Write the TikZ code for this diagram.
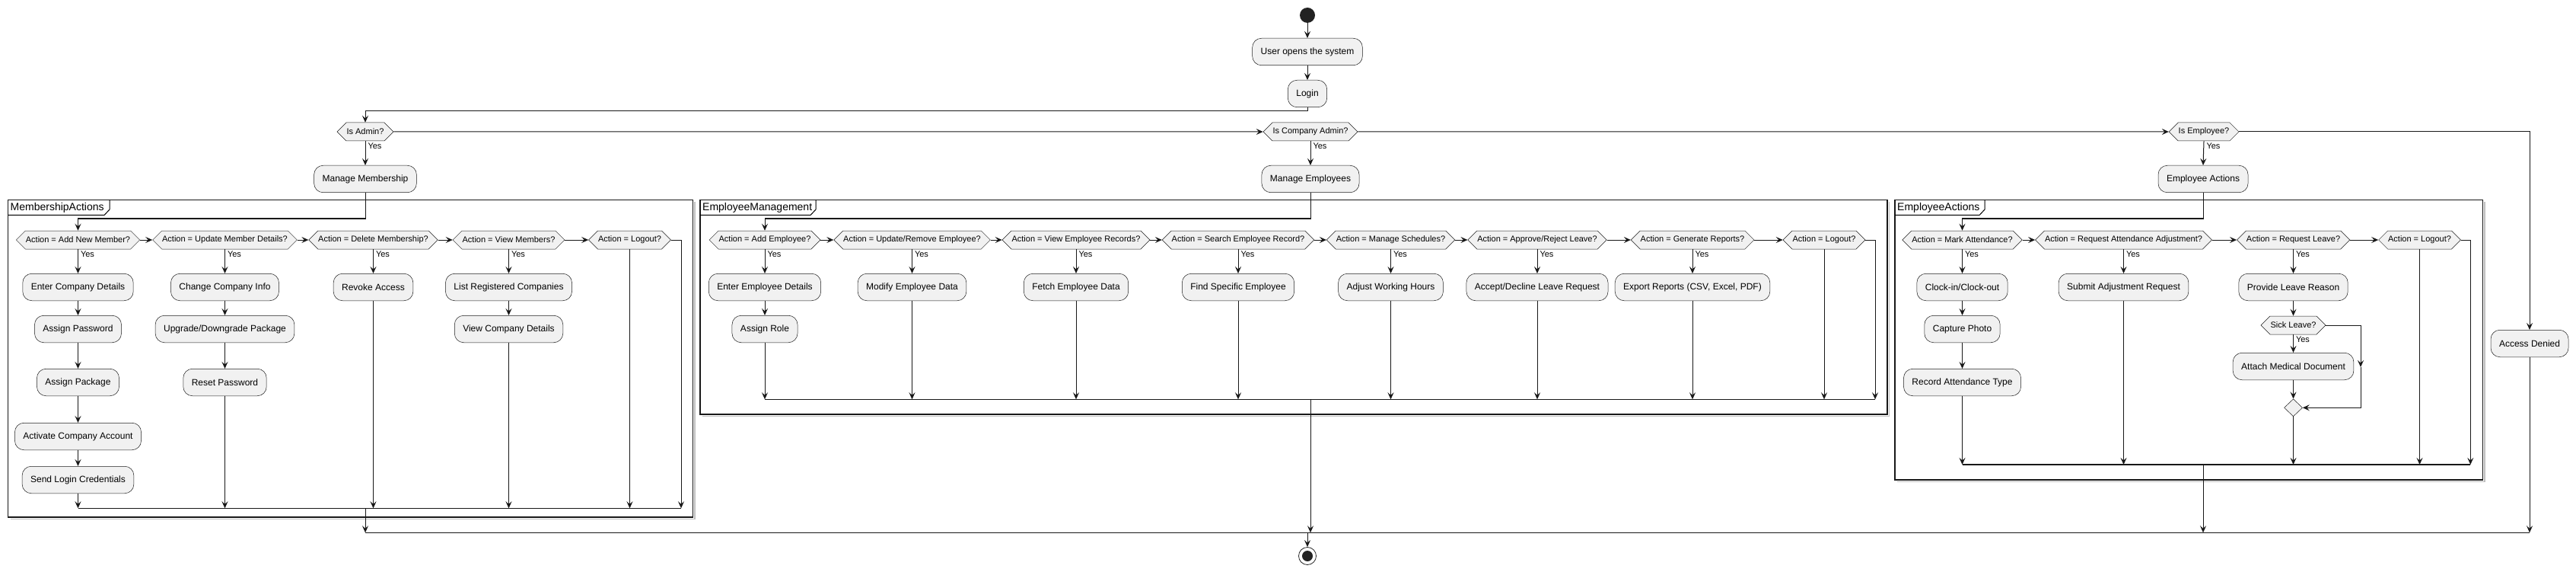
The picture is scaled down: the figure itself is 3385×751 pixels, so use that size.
\documentclass[tikz,border=0pt]{standalone}
\usepackage{fontspec}
\setmainfont{Liberation Sans}
\usetikzlibrary{arrows.meta,shapes.symbols,shapes.geometric}
\definecolor{boxfill}{HTML}{F1F1F1}
\definecolor{boxline}{HTML}{181818}
\definecolor{dot}{HTML}{222222}
\begin{document}
\begin{tikzpicture}[x=1pt, y=-1pt,
    act/.style={rectangle, rounded corners=12pt, draw=boxline, fill=boxfill, line width=0.5pt,
      minimum height=35.5pt, inner xsep=11pt, font=\fontsize{12}{14}\selectfont},
    dec/.style={signal, signal to=east and west, draw=boxline, fill=boxfill, line width=0.5pt,
      minimum height=24pt, inner xsep=0.5pt, inner ysep=0pt, font=\fontsize{11}{13}\selectfont},
    merge/.style={diamond, draw=boxline, fill=boxfill, line width=0.5pt,
      minimum width=24pt, minimum height=23pt, inner sep=0pt},
    yes/.style={anchor=north west, inner sep=1pt, xshift=2pt, yshift=-1.5pt, font=\fontsize{11}{13}\selectfont},
    arr/.style={-{Stealth[length=9pt,width=8pt,inset=3.5pt]}, line width=1pt, draw=boxline},
    bar/.style={line width=1.3pt, draw=boxline},
    frame/.style={line width=1.5pt, draw=boxline},
    frameshadow/.style={line width=1.5pt, draw=black!25},
    framelbl/.style={anchor=west, inner sep=0pt, font=\fontsize{14}{16}\selectfont}]
  \useasboundingbox (0,0) rectangle (3385,751);
  % partitions
  \foreach \l/\r/\b/\t/\name in {10.5/910.5/679/144/MembershipActions,
      920/2480/544/1072/EmployeeManagement, 2490/3262.5/630/2608/EmployeeActions}{
    \draw[frameshadow] (\l+3,\b+2.5) -- (\r+2.5,\b+2.5) -- (\r+2.5,265);
    \draw[frame] (\l,262.5) rectangle (\r,\b);
    \draw[line width=1pt] (\l,282.5) -- (\t-7,282.5) -- (\t,275) -- (\t,262.5);
    \node[framelbl] (f\name) at (\l+3,272.5) {\name};
  }
  % top
  \node[circle, fill=dot, minimum size=20pt, inner sep=0pt] (start) at (1718,20) {};
  \node[act] (open) at (1718,68) {User opens the system};
  \node[act] (login) at (1718,123) {Login};
  \node[dec] (isadmin) at (480,173) {Is Admin?};
  \node[dec] (iscadmin) at (1722,173) {Is Company Admin?};
  \node[dec] (isemp) at (2896,173) {Is Employee?};
  \node[act] (mship) at (480,235) {Manage Membership};
  \node[act] (memp) at (1722,235) {Manage Employees};
  \node[act] (eact) at (2895,235) {Employee Actions};
  \node[act] (denied) at (3324,451) {Access Denied};
  % membership
  \node[dec] (m1) at (102.5,315) {Action = Add New Member?};
  \node[dec] (m2) at (295.5,315) {Action = Update Member Details?};
  \node[dec] (m3) at (490.5,315) {Action = Delete Membership?};
  \node[dec] (m4) at (668.5,315) {Action = View Members?};
  \node[dec] (m5) at (827.5,315) {Action = Logout?};
  \node[act] (m1a) at (102.5,377) {Enter Company Details};
  \node[act] (m1b) at (102.5,432) {Assign Password};
  \node[act] (m1c) at (102.5,502) {Assign Package};
  \node[act] (m1d) at (102.5,573) {Activate Company Account};
  \node[act] (m1e) at (102.5,630) {Send Login Credentials};
  \node[act] (m2a) at (295.5,377) {Change Company Info};
  \node[act] (m2b) at (295.5,432) {Upgrade/Downgrade Package};
  \node[act] (m2c) at (295.5,502) {Reset Password};
  \node[act] (m3a) at (490.5,377) {Revoke Access};
  \node[act] (m4a) at (668.5,377) {List Registered Companies};
  \node[act] (m4b) at (668.5,432) {View Company Details};
  % employee management
  \node[dec] (e1) at (1005,315) {Action = Add Employee?};
  \node[dec] (e2) at (1198.5,315) {Action = Update/Remove Employee?};
  \node[dec] (e3) at (1414,315) {Action = View Employee Records?};
  \node[dec] (e4) at (1627,315) {Action = Search Employee Record?};
  \node[dec] (e5) at (1827.5,315) {Action = Manage Schedules?};
  \node[dec] (e6) at (2020,315) {Action = Approve/Reject Leave?};
  \node[dec] (e7) at (2224,315) {Action = Generate Reports?};
  \node[dec] (e8) at (2397,315) {Action = Logout?};
  \node[act] (e1a) at (1005,377) {Enter Employee Details};
  \node[act] (e1b) at (1005,432) {Assign Role};
  \node[act] (e2a) at (1198.5,377) {Modify Employee Data};
  \node[act] (e3a) at (1414,377) {Fetch Employee Data};
  \node[act] (e4a) at (1627,377) {Find Specific Employee};
  \node[act] (e5a) at (1827.5,377) {Adjust Working Hours};
  \node[act] (e6a) at (2020,377) {Accept/Decline Leave Request};
  \node[act] (e7a) at (2224,377) {Export Reports (CSV, Excel, PDF)};
  % employee actions
  \node[dec] (a1) at (2578.5,315) {Action = Mark Attendance?};
  \node[dec] (a2) at (2790.5,315) {Action = Request Attendance Adjustment?};
  \node[dec] (a3) at (3013.5,315) {Action = Request Leave?};
  \node[dec] (a4) at (3179.5,315) {Action = Logout?};
  \node[act] (a1a) at (2578.5,377) {Clock-in/Clock-out};
  \node[act] (a1b) at (2578.5,432) {Capture Photo};
  \node[act] (a1c) at (2578.5,502) {Record Attendance Type};
  \node[act] (a2a) at (2790.5,377) {Submit Adjustment Request};
  \node[act] (a3a) at (3013.5,377) {Provide Leave Reason};
  \node[dec] (sick) at (3013.5,427) {Sick Leave?};
  \node[act] (a3b) at (3013.5,481) {Attach Medical Document};
  \node[merge] (amerge) at (3013.5,535.3) {};
  % end
  \node[circle, draw=dot, fill=white, line width=0.8pt, minimum size=23pt, inner sep=0pt] (stop) at (1718,730) {};
  \fill[dot] (stop.center) circle (7pt);
  % joins
  \coordinate (mj) at (0,667.3);
  \coordinate (ej) at (0,524.3);
  \coordinate (aj) at (0,610);
  \coordinate (fin) at (0,699.3);
  \coordinate (mr) at (895,667.3);
  \coordinate (er) at (2464,524.3);
  \coordinate (ar) at (3246.3,610);
  \coordinate (skm) at (3102,482);
  \coordinate (sk) at (3102,535.3);
  % flow
  \draw[arr] (start) -- (open);
  \draw[arr] (open) -- (login);
  \draw[arr] (login.south) -- ++(0,4.5) -| (isadmin.north);
  \draw[arr] (isadmin) -- (iscadmin);
  \draw[arr] (iscadmin) -- (isemp);
  \draw[arr] (isemp.east) -| (denied.north);
  \foreach \s/\d in {mship/m1, memp/e1, eact/a1}
    \draw[arr] (\s.south) -- ++(0,34) -| (\d.north);
  \foreach \d/\a in {isadmin/mship, iscadmin/memp, isemp/eact, m1/m1a, m2/m2a, m3/m3a, m4/m4a,
      e1/e1a, e2/e2a, e3/e3a, e4/e4a, e5/e5a, e6/e6a, e7/e7a, a1/a1a, a2/a2a, a3/a3a, sick/a3b}
    \draw[arr] (\d.south) node[yes] (y\d) {Yes} -- (\a.north);
  \foreach \a/\b in {m1/m2, m2/m3, m3/m4, m4/m5, e1/e2, e2/e3, e3/e4, e4/e5, e5/e6, e6/e7, e7/e8,
      a1/a2, a2/a3, a3/a4}
    \draw[arr] (\a.east) -- (\b.west);
  \foreach \a/\b in {m1a/m1b, m1b/m1c, m1c/m1d, m1d/m1e, m2a/m2b, m2b/m2c, m4a/m4b, e1a/e1b,
      a1a/a1b, a1b/a1c, a3a/sick, a3b/amerge}
    \draw[arr] (\a.south) -- (\b.north);
  \draw[arr] (sick.east) -| (skm);
  \draw[arr] (skm) -- (sk) -- (amerge.east);
  \foreach \n/\j in {m1e/mj, m2c/mj, m3a/mj, m4b/mj, m5/mj, e1b/ej, e2a/ej, e3a/ej, e4a/ej, e5a/ej,
      e6a/ej, e7a/ej, e8/ej, a1c/aj, a2a/aj, amerge/aj, a4/aj}
    \draw[arr] (\n.south) -- (\n.south |- \j);
  \foreach \d/\c in {m5/mr, e8/er, a4/ar}
    \draw[arr] (\d.east) -| (\c);
  \draw[bar] (m1e.south |- mj) -- (mr);
  \draw[bar] (e1b.south |- ej) -- (er);
  \draw[bar] (a1c.south |- aj) -- (ar);
  \foreach \s/\j in {mship/mj, memp/ej, eact/aj}
    \draw[arr] (\s.south |- \j) -- (\s.south |- fin);
  \draw[arr] (denied.south) -- (denied.south |- fin);
  \draw[bar] (mship.south |- fin) -- (denied.south |- fin);
  \draw[arr] (start |- fin) -- (stop.north);
\end{tikzpicture}
\end{document}
